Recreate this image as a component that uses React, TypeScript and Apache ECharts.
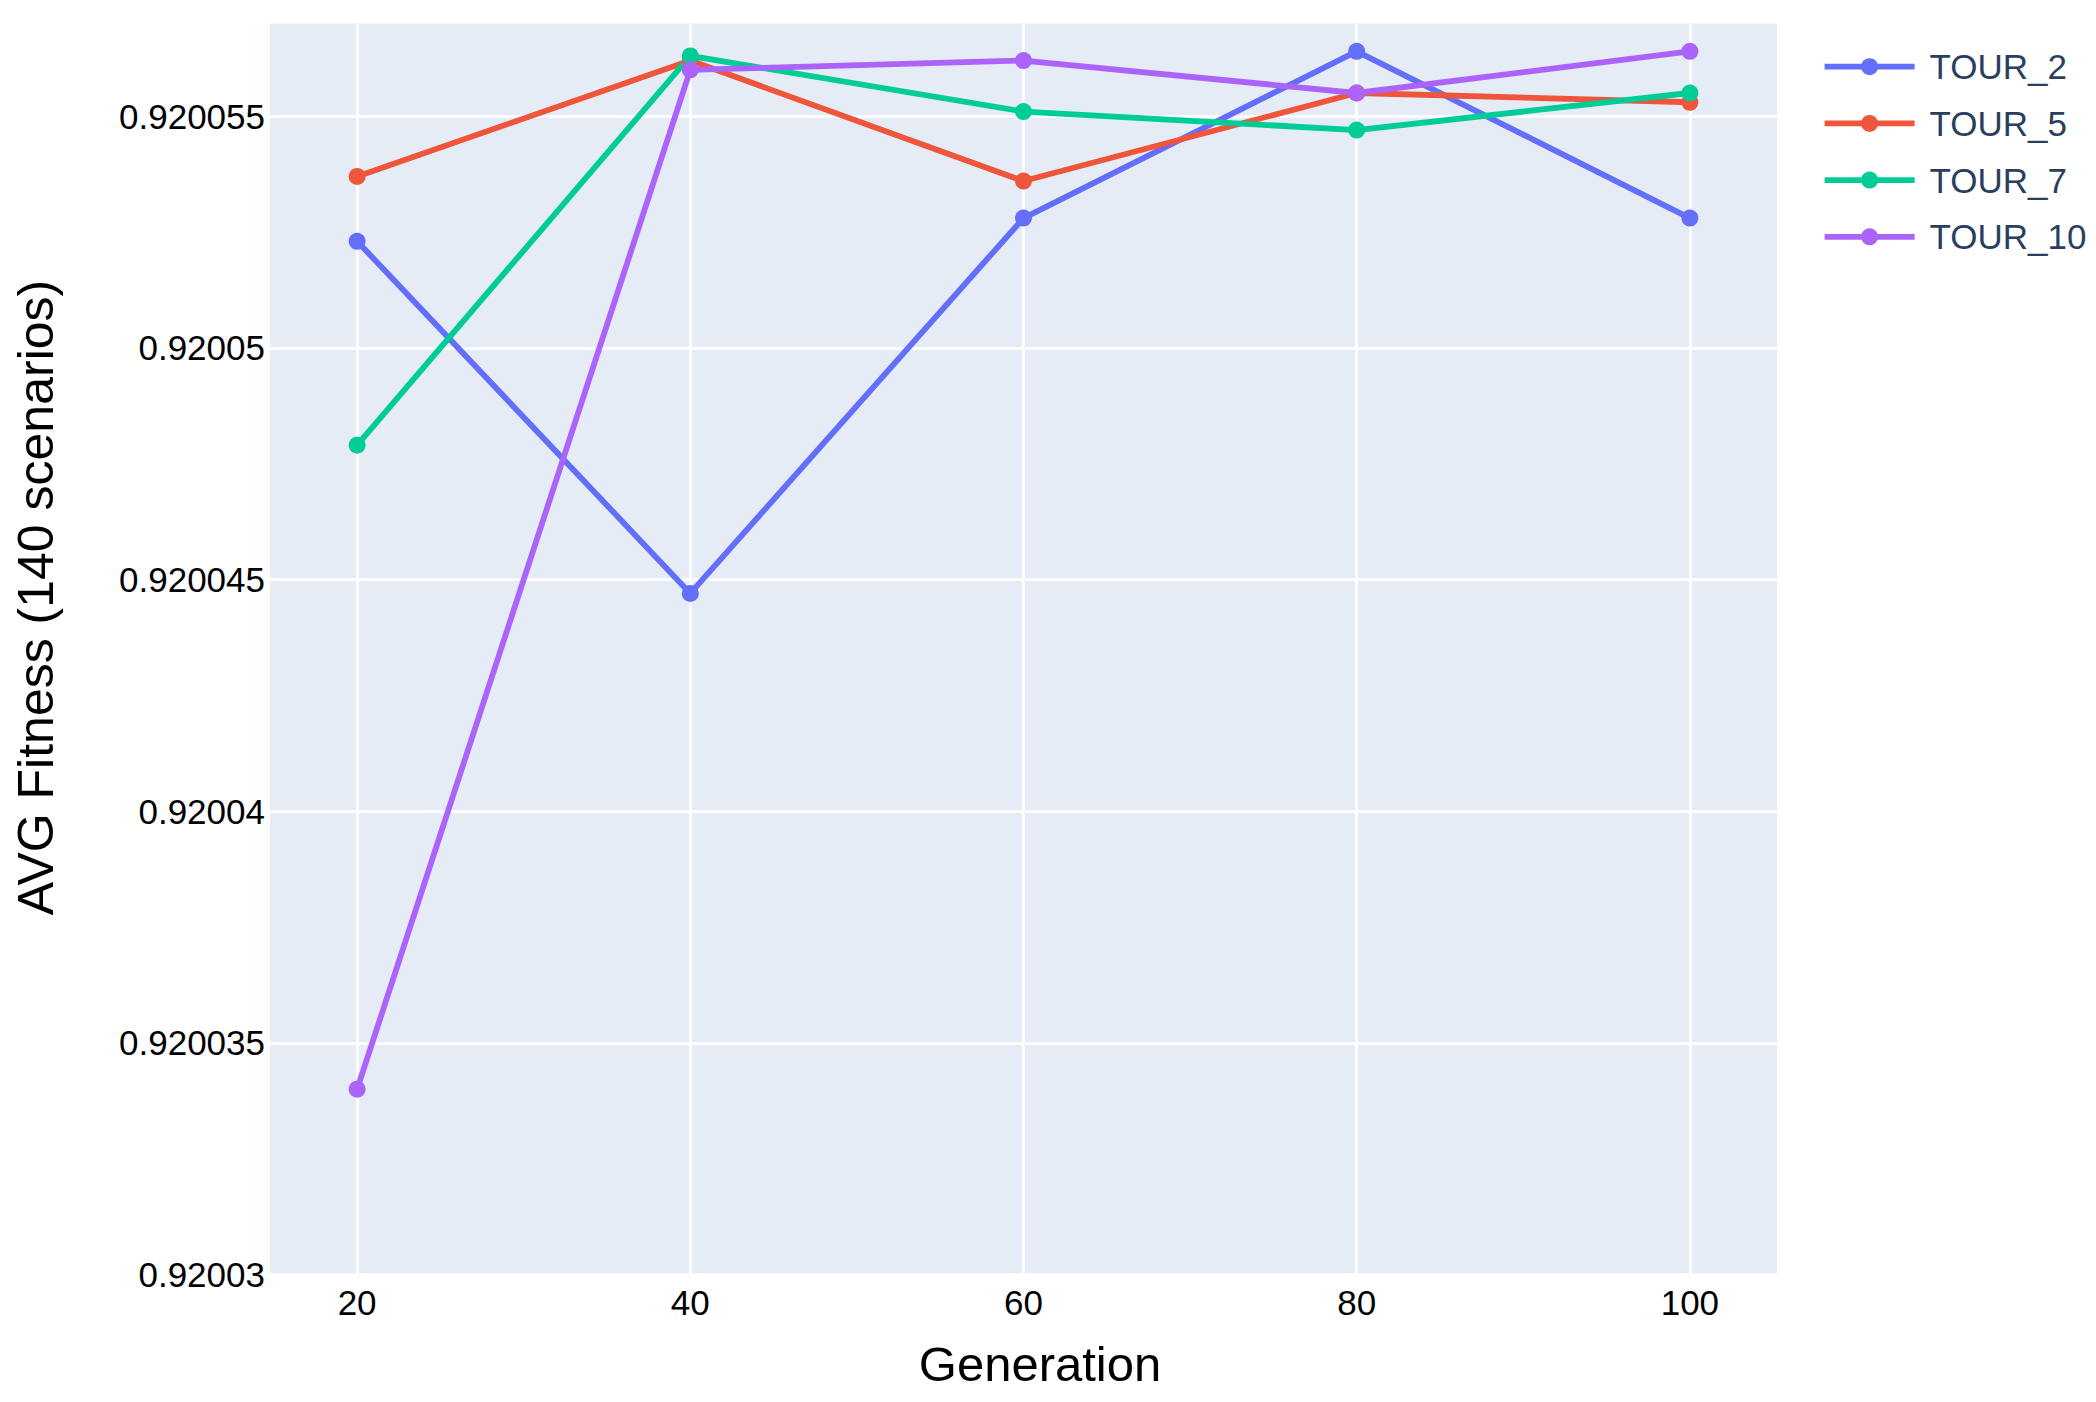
import React, { useEffect, useRef } from "react";
import * as echarts from "echarts";

const generations = [20, 40, 60, 80, 100];
const seriesNames = ["TOUR_2", "TOUR_5", "TOUR_7", "TOUR_10"];
const tour2 = [0.9200523, 0.9200447, 0.9200528, 0.9200564, 0.9200528];
const tour5 = [0.9200537, 0.9200562, 0.9200536, 0.9200555, 0.9200553];
const tour7 = [0.9200479, 0.9200563, 0.9200551, 0.9200547, 0.9200555];
const tour10 = [0.920034, 0.920056, 0.9200562, 0.9200555, 0.9200564];
const seriesValues = [tour2, tour5, tour7, tour10];
const colors = ["#636efa", "#EF553B", "#00cc96", "#ab63fa"];
const yTicks = [0.92003, 0.920035, 0.92004, 0.920045, 0.92005, 0.920055];
const xTicks = [20, 40, 60, 80, 100];
const xTitle = "Generation";
const yTitle = "AVG Fitness (140 scenarios)";

const FONT = "'Liberation Sans', Arial, sans-serif";
const LINE_W = 5.8;

export default function App() {
  const ref = useRef<HTMLDivElement>(null);
  useEffect(() => {
    if (!ref.current) return;
    const chart = echarts.init(ref.current, null, { renderer: "svg" });
    const option: any = {
      animation: false,
      backgroundColor: "#ffffff",
      color: colors,
      grid: {
        left: 270,
        top: 23.5,
        width: 1507,
        height: 1251,
        show: true,
        backgroundColor: "#E5ECF6",
        borderWidth: 0,
      },
      legend: {
        orient: "vertical",
        left: 1821.7,
        top: 49.2,
        padding: 0,
        itemWidth: 90,
        itemHeight: 21.25,
        itemGap: 21.7,
        data: seriesNames,
        lineStyle: { width: LINE_W },
        textStyle: {
          fontFamily: FONT,
          fontSize: 35,
          color: "#2a3f5f",
          lineHeight: 35,
          padding: [0, 0, 0, 10],
        },
      },
      xAxis: {
        type: "value",
        min: 14.77,
        max: 105.23,
        axisLine: { show: false },
        axisTick: { show: false, customValues: xTicks },
        axisLabel: {
          customValues: xTicks,
          fontFamily: FONT,
          fontSize: 35,
          color: "#000000",
          margin: 10,
        },
        splitLine: { show: true, lineStyle: { color: "#ffffff", width: 2.7 } },
      },
      yAxis: {
        type: "value",
        min: 0.92003,
        max: 0.920057,
        axisLine: { show: false },
        axisTick: { show: false, customValues: yTicks },
        axisLabel: {
          customValues: yTicks,
          fontFamily: FONT,
          fontSize: 35,
          color: "#000000",
          margin: 5,
          formatter: (v: number) => String(Number(v.toFixed(6))),
        },
        splitLine: { show: true, lineStyle: { color: "#ffffff", width: 2.7 } },
      },
      graphic: [
        {
          type: "text",
          x: 1040,
          y: 1364,
          style: {
            text: xTitle,
            fontFamily: FONT,
            fontSize: 49,
            fill: "#000000",
            textAlign: "center",
            textVerticalAlign: "middle",
          },
        },
        {
          type: "text",
          x: 36,
          y: 597.5,
          rotation: Math.PI / 2,
          style: {
            text: yTitle,
            fontFamily: FONT,
            fontSize: 50,
            fill: "#000000",
            textAlign: "center",
            textVerticalAlign: "middle",
          },
        },
      ],
      series: seriesNames.map((name, i) => ({
        name,
        type: "line",
        data: generations.map((g, j) => [g, seriesValues[i][j]]),
        symbol: "circle",
        symbolSize: 17,
        showSymbol: true,
        lineStyle: { width: LINE_W, color: colors[i] },
        itemStyle: { color: colors[i] },
        emphasis: { disabled: true },
      })),
    };
    chart.setOption(option);
    return () => chart.dispose();
  }, []);
  return (
    <div
      ref={ref}
      style={{ position: "absolute", left: 0, top: 0, width: 2096, height: 1402 }}
    />
  );
}
